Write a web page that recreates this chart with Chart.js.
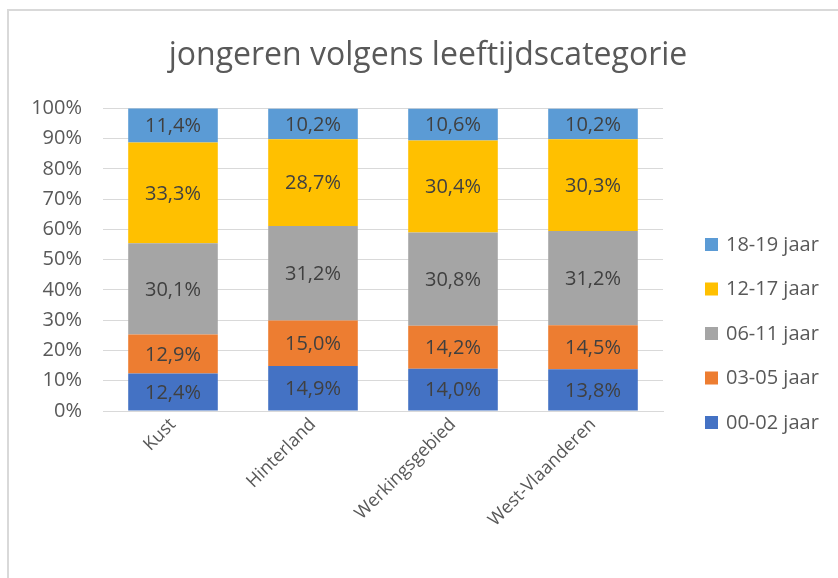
<!DOCTYPE html>
<html>
<head>
<meta charset="utf-8">
<script src="https://cdn.jsdelivr.net/npm/chart.js@4"></script>
<style>
  html, body { margin: 0; padding: 0; background: #fff; overflow: hidden; }
  #frame {
    position: absolute; left: 7px; top: 9px; width: 900px; height: 600px;
    border: 2px solid #d9d9d9; box-sizing: border-box;
  }
  #wrap { position: absolute; left: 0; top: 0; width: 838px; height: 578px; }
</style>
</head>
<body>
<div id="frame"></div>
<div id="wrap"><canvas id="myChart" width="838" height="578"></canvas></div>
<script>
const categories = ["Kust", "Hinterland", "Werkingsgebied", "West-Vlaanderen"];
const seriesNames = ["00-02 jaar", "03-05 jaar", "06-11 jaar", "12-17 jaar", "18-19 jaar"];
const age0002 = [12.4, 14.9, 14.0, 13.8];
const age0305 = [12.9, 15.0, 14.2, 14.5];
const age0611 = [30.1, 31.2, 30.8, 31.2];
const age1217 = [33.3, 28.7, 30.4, 30.3];
const age1819 = [11.4, 10.2, 10.6, 10.2];
const yTicks = [0, 10, 20, 30, 40, 50, 60, 70, 80, 90, 100];

const colors = ["#4472C4", "#ED7D31", "#A5A5A5", "#FFC000", "#5B9BD5"];
const allSeries = [age0002, age0305, age0611, age1217, age1819];

const FONT = "'Open Sans', sans-serif";

// value labels in the middle of every segment
const barLabels = {
  id: "barLabels",
  afterDatasetsDraw(chart) {
    const ctx = chart.ctx;
    ctx.save();
    ctx.font = "20px " + FONT;
    ctx.fillStyle = "#404040";
    ctx.textAlign = "center";
    ctx.textBaseline = "middle";
    chart.data.datasets.forEach((ds, i) => {
      const meta = chart.getDatasetMeta(i);
      meta.data.forEach((bar, j) => {
        const txt = ds.data[j].toFixed(1).replace(".", ",") + "%";
        ctx.fillText(txt, bar.x, (bar.y + bar.base) / 2 + 1);
      });
    });
    ctx.restore();
  },
};

// legend on the right, top item = last series
const sideLegend = {
  id: "sideLegend",
  afterDraw(chart) {
    const ctx = chart.ctx;
    const sets = chart.data.datasets;
    ctx.save();
    ctx.font = "20px " + FONT;
    ctx.textBaseline = "middle";
    ctx.textAlign = "left";
    for (let k = 0; k < sets.length; k++) {
      const ds = sets[sets.length - 1 - k];
      const y = 244 + k * 44.5;
      ctx.fillStyle = ds.backgroundColor;
      ctx.fillRect(705, y - 6, 13, 13);
      ctx.fillStyle = "#595959";
      ctx.fillText(ds.label, 726, y + 1);
    }
    ctx.restore();
  },
};

const config = {
  type: "bar",
  data: {
    labels: categories,
    datasets: allSeries.map((d, i) => ({
      label: seriesNames[i],
      data: d,
      backgroundColor: colors[i],
      borderWidth: 0,
      categoryPercentage: 1,
      barPercentage: 0.64,
    })),
  },
  options: {
    responsive: false,
    animation: false,
    layout: { padding: { left: 18, right: 0, top: 0, bottom: 0 } },
    plugins: {
      legend: { display: false },
      tooltip: { enabled: false },
      title: {
        display: true,
        text: "jongeren volgens leeftijdscategorie",
        color: "#595959",
        font: { family: FONT, size: 32, weight: "normal" },
        padding: { top: 37, bottom: 33 },
      },
    },
    scales: {
      x: {
        stacked: true,
        grid: { display: false, drawTicks: false },
        border: { display: true, color: "#d9d9d9", width: 1 },
        ticks: {
          color: "#595959",
          font: { family: FONT, size: 18 },
          minRotation: 45,
          maxRotation: 45,
          padding: 3,
        },
        afterFit(scale) { scale.height = 167; },
      },
      y: {
        stacked: true,
        min: 0,
        max: 100,
        afterBuildTicks(scale) { scale.ticks = yTicks.map((v) => ({ value: v })); },
        grid: { color: "#d9d9d9", lineWidth: 1, drawTicks: false },
        border: { display: false },
        ticks: {
          color: "#595959",
          font: { family: FONT, size: 20 },
          padding: 21,
          callback: (v) => v + "%",
        },
        afterFit(scale) { scale.width = 85; },
      },
      // empty box on the right that leaves room for the legend
      side: {
        position: "right",
        grid: { display: false, drawTicks: false },
        border: { display: false },
        ticks: { display: false },
        afterFit(scale) { scale.width = 175; },
      },
    },
  },
  plugins: [barLabels, sideLegend],
};

new Chart(document.getElementById("myChart"), config);
</script>
</body>
</html>
